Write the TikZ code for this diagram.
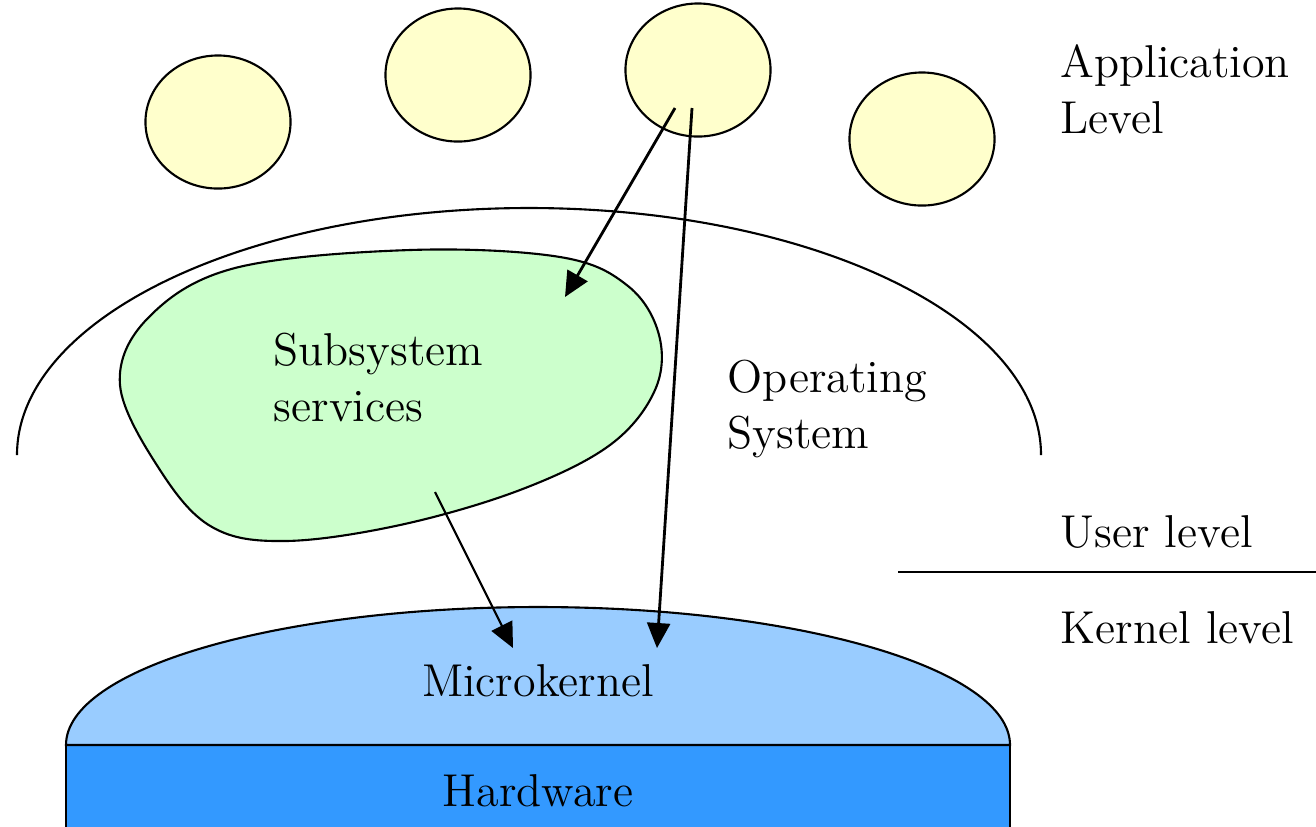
\documentclass[tikz,border=0pt]{standalone}
\usepackage{fontspec}
\usetikzlibrary{arrows.meta}
\usetikzlibrary{shapes.geometric}
\usetikzlibrary{positioning}
\definecolor{appyellow}{HTML}{FFFFCC}
\definecolor{subgreen}{HTML}{CCFFCC}
\definecolor{kernblue}{HTML}{99CCFF}
\definecolor{hwblue}{HTML}{3399FF}
\tikzset{app/.style = {draw, ellipse, fill=appyellow, line width=0.6pt,
                       inner sep=0, minimum width=1.45cm, minimum height=1.33cm}}
\tikzset{lbl/.style = {inner sep=0, font=\fontsize{13.1}{16}\selectfont, align=left}}
\tikzset{call/.style = {line width=0.8pt, -{Triangle[length=2.5mm, width=2.3mm]}}}

\begin{document}
\begin{tikzpicture}[x=0.01cm, y=-0.01cm]
      \useasboundingbox (0,0) rectangle (1316,826);

      % application level
      \node [app] (app1) at (218,122) {};
      \node [app] (app2) at (458,75) {};
      \node [app] (app3) at (698,70) {};
      \node [app] (app4) at (922,139) {};
      \node [lbl, anchor=north west] (applvl) at (1060,44) {Application\\Level};

      % operating system
      \draw [line width=0.6pt] (17,455) arc [start angle=180, end angle=360, x radius=512, y radius=247];
      \node [lbl, anchor=north west] (os) at (727,359) {Operating\\System};

      \draw [fill=subgreen, line width=0.6pt] plot [smooth cycle, tension=0.6] coordinates {
        (120,385) (148,318) (235,268) (410,250) (560,257) (628,286) (659,335)
        (655,390) (610,445) (520,490) (400,525) (285,541) (212,527) (160,470)};
      \node [lbl, anchor=north west] (subsys) at (273,332) {Subsystem\\services};

      % user / kernel
      \node [lbl, anchor=base west] (userlvl) at (1060,547) {User level};
      \draw [line width=0.6pt] (898,572) -- (1316,572);
      \node [lbl, anchor=base west] (kernlvl) at (1060,643) {Kernel level};

      % microkernel and hardware
      \fill [hwblue] (66,745) rectangle (1010,830);
      \draw [line width=0.6pt] (66,830) -- (66,745) -- (1010,745) -- (1010,830);
      \draw [fill=kernblue, line width=0.6pt] (66,745) arc [start angle=180, end angle=360, x radius=472, y radius=138] -- cycle;
      \node [lbl, anchor=base] (micro) at (538,696) {Microkernel};
      \node [lbl, anchor=base] (hw) at (538,806) {Hardware};

      % calls
      \coordinate (from1) at (675,108);
      \coordinate (from2) at (692,108);
      \coordinate (from3) at (435,492);
      \coordinate (to1) at (565,297);
      \coordinate (to2) at (657,648);
      \coordinate (to3) at (513,648);
      \draw [call] (from1) -- (to1);
      \draw [call] (from2) -- (to2);
      \draw [call, line width=0.6pt] (from3) -- (to3);
    \end{tikzpicture}
\end{document}
